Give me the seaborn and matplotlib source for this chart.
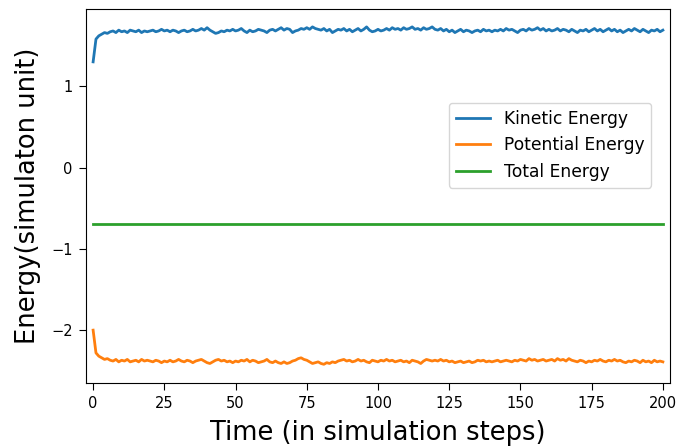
import numpy as np
import pandas as pd
import matplotlib
matplotlib.use("Agg")
import matplotlib.pyplot as plt
import seaborn as sns

# ---- data ----
time_steps = list(range(0, 201))

kinetic_energy = [
    1.30, 1.58, 1.62, 1.64, 1.66, 1.65, 1.67, 1.68, 1.66, 1.69, 1.67, 1.68, 1.66, 1.69, 1.68, 1.67, 1.69, 1.66, 1.68, 1.67,
    1.68, 1.69, 1.67, 1.68, 1.70, 1.68, 1.69, 1.67, 1.69, 1.68, 1.66, 1.68, 1.69, 1.67, 1.68, 1.70, 1.68, 1.69, 1.71, 1.69,
    1.72, 1.69, 1.67, 1.65, 1.66, 1.68, 1.67, 1.69, 1.68, 1.70, 1.68, 1.69, 1.71, 1.68, 1.66, 1.69, 1.67, 1.68, 1.70, 1.69,
    1.68, 1.66, 1.69, 1.70, 1.68, 1.70, 1.72, 1.69, 1.71, 1.70, 1.66, 1.68, 1.69, 1.71, 1.70, 1.72, 1.70, 1.73, 1.71, 1.70,
    1.69, 1.71, 1.68, 1.70, 1.66, 1.68, 1.70, 1.69, 1.71, 1.68, 1.70, 1.67, 1.69, 1.71, 1.68, 1.70, 1.73, 1.69, 1.67, 1.68,
    1.70, 1.68, 1.69, 1.71, 1.69, 1.72, 1.70, 1.71, 1.69, 1.72, 1.70, 1.71, 1.73, 1.70, 1.71, 1.69, 1.72, 1.70, 1.71, 1.73,
    1.70, 1.69, 1.71, 1.68, 1.70, 1.67, 1.69, 1.66, 1.68, 1.70, 1.67, 1.69, 1.68, 1.66, 1.68, 1.69, 1.67, 1.70, 1.68, 1.69,
    1.67, 1.69, 1.68, 1.70, 1.68, 1.71, 1.69, 1.70, 1.68, 1.66, 1.69, 1.70, 1.68, 1.71, 1.69, 1.70, 1.72, 1.69, 1.71, 1.68,
    1.70, 1.68, 1.69, 1.71, 1.68, 1.70, 1.69, 1.67, 1.70, 1.68, 1.66, 1.69, 1.68, 1.70, 1.67, 1.69, 1.71, 1.68, 1.70, 1.67,
    1.69, 1.71, 1.68, 1.70, 1.67, 1.69, 1.66, 1.68, 1.70, 1.68, 1.71, 1.69, 1.67, 1.70, 1.68, 1.66, 1.69, 1.68, 1.70, 1.67, 1.69,
]

potential_energy = [
    -2.00, -2.28, -2.32, -2.34, -2.36, -2.35, -2.37, -2.38, -2.36, -2.39, -2.37, -2.38, -2.36, -2.39, -2.38, -2.37, -2.39, -2.36, -2.38, -2.37,
    -2.38, -2.39, -2.37, -2.38, -2.40, -2.38, -2.39, -2.37, -2.39, -2.38, -2.36, -2.38, -2.39, -2.37, -2.38, -2.40, -2.38, -2.37, -2.36, -2.38,
    -2.40, -2.41, -2.39, -2.37, -2.36, -2.38, -2.37, -2.39, -2.38, -2.40, -2.38, -2.39, -2.37, -2.38, -2.36, -2.39, -2.37, -2.38, -2.40, -2.39,
    -2.38, -2.36, -2.39, -2.40, -2.38, -2.40, -2.41, -2.39, -2.41, -2.40, -2.38, -2.37, -2.35, -2.34, -2.36, -2.37, -2.39, -2.41, -2.40, -2.39,
    -2.41, -2.42, -2.40, -2.41, -2.39, -2.40, -2.38, -2.37, -2.36, -2.38, -2.37, -2.39, -2.38, -2.36, -2.38, -2.37, -2.39, -2.40, -2.37, -2.38,
    -2.39, -2.37, -2.38, -2.36, -2.38, -2.37, -2.39, -2.38, -2.37, -2.39, -2.38, -2.40, -2.37, -2.38, -2.39, -2.41, -2.38, -2.36, -2.37, -2.38,
    -2.37, -2.38, -2.36, -2.38, -2.37, -2.39, -2.38, -2.40, -2.39, -2.38, -2.40, -2.39, -2.38, -2.40, -2.39, -2.37, -2.38, -2.37, -2.39, -2.38,
    -2.39, -2.38, -2.37, -2.39, -2.38, -2.37, -2.38, -2.39, -2.37, -2.38, -2.36, -2.37, -2.38, -2.35, -2.37, -2.36, -2.38, -2.37, -2.36, -2.38,
    -2.37, -2.36, -2.38, -2.35, -2.37, -2.36, -2.38, -2.35, -2.37, -2.38, -2.39, -2.37, -2.38, -2.40, -2.38, -2.39, -2.37, -2.38, -2.36, -2.38,
    -2.39, -2.37, -2.38, -2.36, -2.38, -2.37, -2.39, -2.40, -2.38, -2.39, -2.37, -2.38, -2.40, -2.37, -2.39, -2.38, -2.40, -2.37, -2.39, -2.38, -2.39,
]

total_energy_level = -0.70
total_energy = [total_energy_level] * len(time_steps)

series_names = ["Kinetic Energy", "Potential Energy", "Total Energy"]
x_ticks = [0, 25, 50, 75, 100, 125, 150, 175, 200]
y_ticks = [-2, -1, 0, 1]

# ---- build long table ----
df = pd.DataFrame({
    "time": time_steps * 3,
    "energy": kinetic_energy + potential_energy + total_energy,
    "series": sum([[n] * len(time_steps) for n in series_names], []),
})

palette = {"Kinetic Energy": "#1f77b4", "Potential Energy": "#ff7f0e", "Total Energy": "#2ca02c"}

fig = plt.figure(figsize=(6.78, 4.46), dpi=100)
ax = fig.add_axes([86 / 678, 1 - 383 / 446, (670 - 86) / 678, (383 - 9) / 446])

sns.lineplot(data=df, x="time", y="energy", hue="series", hue_order=series_names,
             palette=palette, linewidth=2.0, ax=ax, estimator=None, sort=False)

ax.set_xlim(-2.5, 202.5)
ax.set_ylim(-2.65, 1.95)
ax.set_xticks(x_ticks)
ax.set_yticks(y_ticks)
ax.set_yticklabels(["\u22122", "\u22121", "0", "1"])
ax.tick_params(labelsize=10.5, length=5, pad=4.5)
ax.set_xlabel("Time (in simulation steps)", fontsize=18.5, labelpad=6)
ax.set_ylabel("Energy(simulaton unit)", fontsize=18.5, labelpad=7)

handles, labels = ax.get_legend_handles_labels()
ax.legend(handles, labels, loc="upper right", bbox_to_anchor=(0.9675, 0.749),
          borderaxespad=0.0, fontsize=12.3, frameon=True)

fig.savefig("out.png", dpi=100)
